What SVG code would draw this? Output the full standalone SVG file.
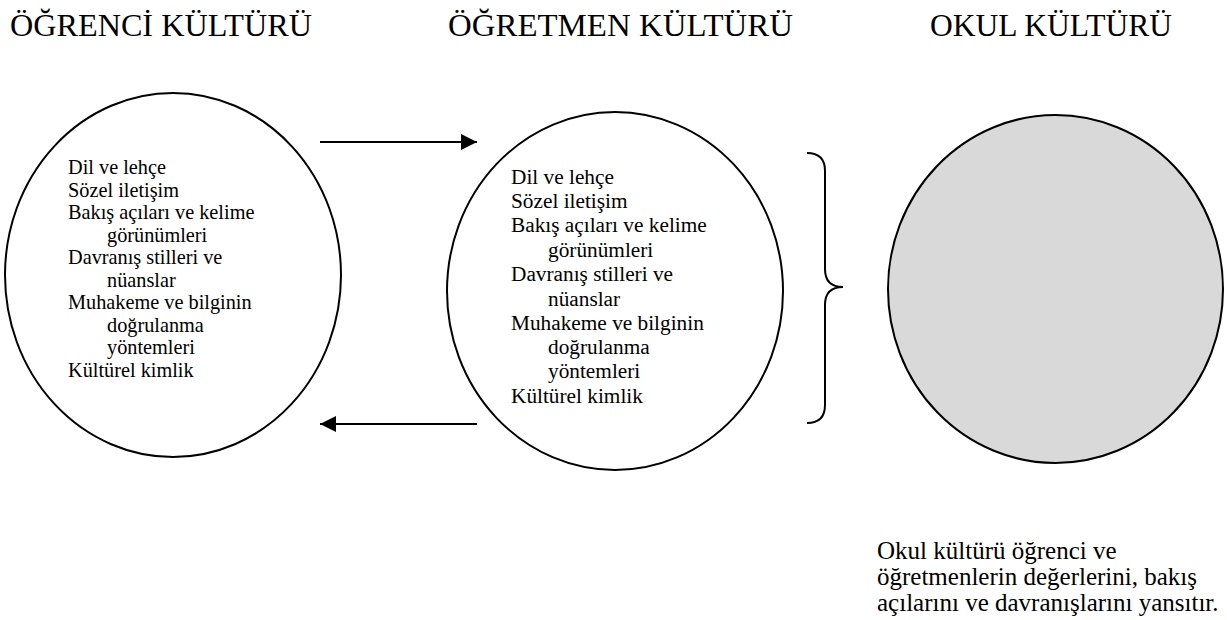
<svg xmlns="http://www.w3.org/2000/svg" width="1227" height="620" viewBox="0 0 1227 620">
<style>
  text { font-family: "Liberation Serif", "Times New Roman", serif; fill: #000; }
  .title { font-size: 32px; }
  .item1 { font-size: 20.3px; }
  .item2 { font-size: 21.3px; }
  .note { font-size: 25px; }
  .shape { stroke: #000; stroke-width: 2; }
  .conn { stroke: #000; stroke-width: 2; fill: none; }
</style>
<defs>
  <marker id="arrow" markerUnits="userSpaceOnUse" markerWidth="17" markerHeight="17" refX="16" refY="8.5" orient="auto">
    <path d="M0,0.5 L16,8.5 L0,16.5 z" fill="#000"/>
  </marker>
</defs>
<rect width="1227" height="620" fill="#fff"/>

<g id="titles">
  <text class="title" x="10" y="36" textLength="302" lengthAdjust="spacingAndGlyphs">ÖĞRENCİ KÜLTÜRÜ</text>
  <text class="title" x="448" y="36" textLength="345" lengthAdjust="spacingAndGlyphs">ÖĞRETMEN KÜLTÜRÜ</text>
  <text class="title" x="930" y="36" textLength="242" lengthAdjust="spacingAndGlyphs">OKUL KÜLTÜRÜ</text>
</g>

<g id="student-culture">
  <ellipse class="shape" cx="173" cy="275" rx="168" ry="182" fill="#fff"/>
  <text class="item1">
    <tspan x="68" y="174">Dil ve lehçe</tspan>
    <tspan x="68" y="197">Sözel iletişim</tspan>
    <tspan x="68" y="219">Bakış açıları ve kelime</tspan>
    <tspan x="107" y="242">görünümleri</tspan>
    <tspan x="68" y="264">Davranış stilleri ve</tspan>
    <tspan x="107" y="287">nüanslar</tspan>
    <tspan x="68" y="309">Muhakeme ve bilginin</tspan>
    <tspan x="107" y="332">doğrulanma</tspan>
    <tspan x="107" y="354">yöntemleri</tspan>
    <tspan x="68" y="377">Kültürel kimlik</tspan>
  </text>
</g>

<g id="teacher-culture">
  <ellipse class="shape" cx="615" cy="291" rx="168" ry="179" fill="#fff"/>
  <text class="item2">
    <tspan x="511" y="184">Dil ve lehçe</tspan>
    <tspan x="511" y="208">Sözel iletişim</tspan>
    <tspan x="511" y="232">Bakış açıları ve kelime</tspan>
    <tspan x="548" y="257">görünümleri</tspan>
    <tspan x="511" y="281">Davranış stilleri ve</tspan>
    <tspan x="548" y="306">nüanslar</tspan>
    <tspan x="511" y="330">Muhakeme ve bilginin</tspan>
    <tspan x="548" y="354">doğrulanma</tspan>
    <tspan x="548" y="378">yöntemleri</tspan>
    <tspan x="511" y="403">Kültürel kimlik</tspan>
  </text>
</g>

<g id="school-culture">
  <ellipse class="shape" cx="1055.5" cy="289" rx="167.5" ry="174" fill="#d9d9d9"/>
</g>

<g id="note">
  <text class="note">
    <tspan x="877" y="559">Okul kültürü öğrenci ve</tspan>
    <tspan x="877" y="585">öğretmenlerin değerlerini, bakış</tspan>
    <tspan x="877" y="611">açılarını ve davranışlarını yansıtır.</tspan>
  </text>
</g>

<g id="connectors">
  <line class="conn" x1="320" y1="142" x2="477" y2="142" marker-end="url(#arrow)"/>
  <line class="conn" x1="477" y1="424" x2="320" y2="424" marker-end="url(#arrow)"/>
  <path class="conn" d="M807,153 Q825,153 825,171 L825,269 Q825,287 843,287 Q825,287 825,305 L825,405 Q825,423 807,423"/>
</g>
</svg>
